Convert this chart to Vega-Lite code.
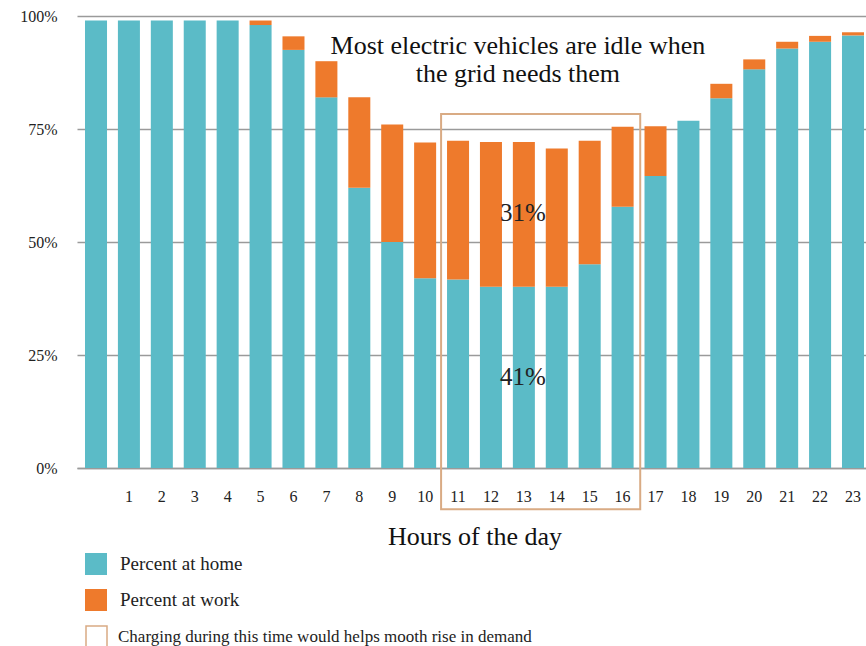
{
  "$schema": "https://vega.github.io/schema/vega-lite/v6.json",
  "autosize": {"type": "none"},
  "padding": {"left": 77, "top": 16, "right": 0, "bottom": 178},
  "width": 789,
  "height": 452,
  "background": "white",
  "config": {
    "font": "Liberation Serif",
    "view": {"stroke": null},
    "axis": {"labelFont": "Liberation Serif", "titleFont": "Liberation Serif"},
    "legend": {"labelFont": "Liberation Serif"}
  },
  "datasets": {
    "bars": [
      {"hour": 0, "type": "Percent at home", "pct": 99},
      {"hour": 0, "type": "Percent at work", "pct": 0},
      {"hour": 1, "type": "Percent at home", "pct": 99},
      {"hour": 1, "type": "Percent at work", "pct": 0},
      {"hour": 2, "type": "Percent at home", "pct": 99},
      {"hour": 2, "type": "Percent at work", "pct": 0},
      {"hour": 3, "type": "Percent at home", "pct": 99},
      {"hour": 3, "type": "Percent at work", "pct": 0},
      {"hour": 4, "type": "Percent at home", "pct": 99},
      {"hour": 4, "type": "Percent at work", "pct": 0},
      {"hour": 5, "type": "Percent at home", "pct": 98},
      {"hour": 5, "type": "Percent at work", "pct": 1},
      {"hour": 6, "type": "Percent at home", "pct": 92.5},
      {"hour": 6, "type": "Percent at work", "pct": 3},
      {"hour": 7, "type": "Percent at home", "pct": 82},
      {"hour": 7, "type": "Percent at work", "pct": 8},
      {"hour": 8, "type": "Percent at home", "pct": 62},
      {"hour": 8, "type": "Percent at work", "pct": 20},
      {"hour": 9, "type": "Percent at home", "pct": 50},
      {"hour": 9, "type": "Percent at work", "pct": 26},
      {"hour": 10, "type": "Percent at home", "pct": 42},
      {"hour": 10, "type": "Percent at work", "pct": 30},
      {"hour": 11, "type": "Percent at home", "pct": 41.7},
      {"hour": 11, "type": "Percent at work", "pct": 30.7},
      {"hour": 12, "type": "Percent at home", "pct": 40.1},
      {"hour": 12, "type": "Percent at work", "pct": 32},
      {"hour": 13, "type": "Percent at home", "pct": 40.1},
      {"hour": 13, "type": "Percent at work", "pct": 32},
      {"hour": 14, "type": "Percent at home", "pct": 40.1},
      {"hour": 14, "type": "Percent at work", "pct": 30.6},
      {"hour": 15, "type": "Percent at home", "pct": 45.1},
      {"hour": 15, "type": "Percent at work", "pct": 27.3},
      {"hour": 16, "type": "Percent at home", "pct": 57.8},
      {"hour": 16, "type": "Percent at work", "pct": 17.7},
      {"hour": 17, "type": "Percent at home", "pct": 64.6},
      {"hour": 17, "type": "Percent at work", "pct": 11},
      {"hour": 18, "type": "Percent at home", "pct": 76.8},
      {"hour": 18, "type": "Percent at work", "pct": 0},
      {"hour": 19, "type": "Percent at home", "pct": 81.8},
      {"hour": 19, "type": "Percent at work", "pct": 3.2},
      {"hour": 20, "type": "Percent at home", "pct": 88.2},
      {"hour": 20, "type": "Percent at work", "pct": 2.2},
      {"hour": 21, "type": "Percent at home", "pct": 92.8},
      {"hour": 21, "type": "Percent at work", "pct": 1.5},
      {"hour": 22, "type": "Percent at home", "pct": 94.3},
      {"hour": 22, "type": "Percent at work", "pct": 1.3},
      {"hour": 23, "type": "Percent at home", "pct": 95.7},
      {"hour": 23, "type": "Percent at work", "pct": 0.7}
    ],
    "box": [
      {"from": 11, "to": 16, "top": 78.3, "bottom": -9.1, "label": "Charging during this time would helps mooth rise in demand"}
    ],
    "notes": [
      {"hour": 13, "y": 56.4, "text": "31%"},
      {"hour": 13, "y": 20.1, "text": "41%"}
    ],
    "headline": [
      {"hour": 13, "y": 93.4, "text": "Most electric vehicles are idle when\nthe grid needs them"}
    ]
  },
  "layer": [
    {
      "data": {"name": "bars"},
      "mark": {"type": "bar"},
      "encoding": {
        "x": {
          "field": "hour",
          "type": "ordinal",
          "scale": {"range": [0, 795], "paddingInner": 0.331, "paddingOuter": 0.243},
          "axis": {
            "title": "Hours of the day",
            "titleFontSize": 26,
            "titleFontWeight": "normal",
            "titleColor": "#111",
            "titlePadding": 19,
            "labelAngle": 0,
            "labelFontSize": 16,
            "labelColor": "#222",
            "labelPadding": 20,
            "labelExpr": "datum.value == 0 ? '' : datum.label",
            "ticks": false,
            "domain": true,
            "domainColor": "#9a9a9a",
            "domainWidth": 1.5
          }
        },
        "y": {
          "field": "pct",
          "type": "quantitative",
          "stack": "zero",
          "scale": {"domain": [0, 100], "nice": false, "zero": true},
          "axis": {
            "title": null,
            "values": [0, 25, 50, 75, 100],
            "labelExpr": "datum.value + '%'",
            "labelFontSize": 16,
            "labelColor": "#222",
            "labelPadding": 20,
            "ticks": false,
            "domain": false,
            "grid": true,
            "gridColor": "#9a9a9a",
            "gridWidth": 1.5
          }
        },
        "color": {
          "field": "type",
          "type": "nominal",
          "scale": {"domain": ["Percent at home", "Percent at work"], "range": ["#5BBBC7", "#EE7A2C"]},
          "legend": {
            "title": null,
            "orient": "none",
            "legendX": 8,
            "legendY": 537,
            "padding": 0,
            "symbolType": "square",
            "symbolSize": 484,
            "symbolStrokeWidth": 0,
            "rowPadding": 14,
            "labelOffset": 13,
            "labelFontSize": 19,
            "labelColor": "#222"
          }
        },
        "order": {"field": "type", "sort": "ascending"}
      }
    },
    {
      "data": {"name": "box"},
      "mark": {"type": "rect", "filled": false, "strokeWidth": 2},
      "encoding": {
        "x": {"field": "from", "type": "ordinal", "bandPosition": -0.27},
        "x2": {"field": "to", "bandPosition": 1.3},
        "y": {"field": "top", "type": "quantitative"},
        "y2": {"field": "bottom"},
        "stroke": {
          "field": "label",
          "type": "nominal",
          "scale": {"range": ["#D9AB84"]},
          "legend": {
            "title": null,
            "orient": "none",
            "legendX": 8,
            "legendY": 609,
            "padding": 0,
            "symbolType": "square",
            "symbolSize": 441,
            "symbolStrokeWidth": 1.5,
            "symbolFillColor": "white",
            "labelOffset": 10,
            "labelFontSize": 17,
            "labelColor": "#222",
            "labelLimit": 800
          }
        }
      }
    },
    {
      "data": {"name": "notes"},
      "mark": {"type": "text", "fontSize": 25, "color": "#222", "baseline": "middle", "align": "center", "dx": -1},
      "encoding": {
        "x": {"field": "hour", "type": "ordinal"},
        "y": {"field": "y", "type": "quantitative"},
        "text": {"field": "text"}
      }
    },
    {
      "data": {"name": "headline"},
      "mark": {"type": "text", "fontSize": 26, "color": "#111", "baseline": "middle", "align": "center", "lineBreak": "\n", "lineHeight": 28, "dx": -6},
      "encoding": {
        "x": {"field": "hour", "type": "ordinal"},
        "y": {"field": "y", "type": "quantitative"},
        "text": {"field": "text"}
      }
    }
  ]
}
